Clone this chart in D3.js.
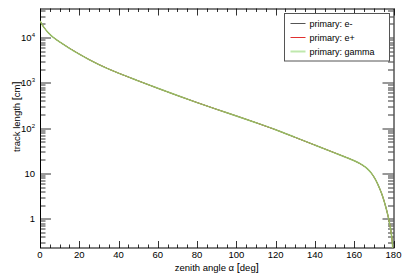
<!DOCTYPE html>
<html>
<head>
<meta charset="utf-8">
<script src="https://cdn.jsdelivr.net/npm/d3@7"></script>
<style>
  body { margin: 0; background: #fff; }
  text { font-family: "Liberation Sans", Arial, sans-serif; fill: #000; }
</style>
</head>
<body>
<div id="chart"></div>
<script>
// zenith angle (deg) and track length (cm)
const angles = [0, 2, 4, 6, 8, 10, 15, 20, 25, 30, 35, 40, 50, 60, 70, 80, 90, 100, 110, 120,
    130, 140, 150, 155, 160, 163, 165, 167, 169, 171, 173, 174, 175, 176, 177, 178, 178.5,
    179, 179.5, 179.8]
const trackLength = [23400, 16800, 13200, 10800, 9230, 8040, 5820, 4320, 3270, 2540, 2020, 1640,
    1110, 759, 525, 367, 260, 186, 132, 92.3, 62.4, 42.2, 28.5, 23.4, 19.05, 16.4, 14.45, 12.3,
    9.77, 7.08, 4.57, 3.55, 2.63, 1.86, 1.26, 0.794, 0.603, 0.427, 0.263, 0.158]
const seriesNames = ["primary: e-", "primary: e+", "primary: gamma"]
const xTicks = [0, 20, 40, 60, 80, 100, 120, 140, 160, 180]
const yTicks = [1, 10, 100, 1000, 10000]

const width = 407, height = 276
const margin = { top: 8.5, right: 13.5, bottom: 28, left: 40 }
const w = width - margin.left - margin.right
const h = height - margin.top - margin.bottom

var x = d3.scaleLinear().domain([0, 180]).range([0, w])
var y = d3.scaleLog().domain([0.225, 44000]).range([h, 0])

const svg = d3.select("#chart").append("svg")
    .attr("width", width)
    .attr("height", height)
const g = svg.append("g")
    .attr("transform", "translate(" + margin.left + "," + margin.top + ")")

g.append("clipPath").attr("id", "clip")
    .append("rect").attr("width", w).attr("height", h)

// ticks on all four sides, ROOT style (inside)
const xMinor = d3.range(0, 181, 5).filter(d => d % 20 != 0)
const yMinor = []
for (let e = -1; e <= 4; e++) {
    for (let k = 2; k <= 9; k++) {
        const v = k * Math.pow(10, e)
        if (v > y.domain()[0] && v < y.domain()[1]) yMinor.push(v)
    }
}
const ticks = g.append("g").attr("stroke", "#333").attr("stroke-width", 1)
function tickLines(vals, len, horizontal) {
    for (const v of vals) {
        if (horizontal) {
            const px = Math.round(x(v)) + 0.5
            ticks.append("line").attr("x1", px).attr("x2", px).attr("y1", h).attr("y2", h - len)
            ticks.append("line").attr("x1", px).attr("x2", px).attr("y1", 0).attr("y2", len)
        } else {
            const py = Math.round(y(v)) + 0.5
            ticks.append("line").attr("x1", 0).attr("x2", len).attr("y1", py).attr("y2", py)
            ticks.append("line").attr("x1", w).attr("x2", w - len).attr("y1", py).attr("y2", py)
        }
    }
}
tickLines(xTicks, 7, true)
tickLines(xMinor, 3.5, true)
tickLines(yTicks, 11, false)
tickLines(yMinor, 5.5, false)

// frame
g.append("rect")
    .attr("x", 0.5).attr("y", 0.5)
    .attr("width", w).attr("height", h - 0.5)
    .attr("fill", "none").attr("stroke", "#000").attr("stroke-width", 1)

// x tick labels
g.append("g").selectAll("text")
    .data(xTicks)
    .join("text")
    .attr("x", d => x(d))
    .attr("y", h + 10)
    .attr("text-anchor", "middle")
    .style("font-size", "9.5px")
    .text(d => d)

// y tick labels with superscript exponents
const yLab = g.append("g").selectAll("text")
    .data(yTicks)
    .join("text")
    .attr("x", -5)
    .attr("y", d => y(d) + 3.5)
    .attr("text-anchor", "end")
    .style("font-size", "9.5px")
yLab.each(function (d) {
    const t = d3.select(this)
    const e = Math.round(Math.log10(d))
    if (e < 2) {
        t.text(d)
    } else {
        t.append("tspan").text("10")
        t.append("tspan").attr("dy", -4).style("font-size", "6px").text(e)
    }
})

// axis titles
const xt = svg.append("text")
    .attr("x", margin.left + w / 2)
    .attr("y", 271)
    .attr("text-anchor", "middle")
    .style("font-size", "9.5px")
xt.append("tspan").text("zenith angle \u03b1  ")
xt.append("tspan").style("font-size", "11px").text("[")
xt.append("tspan").text("deg")
xt.append("tspan").style("font-size", "11px").text("]")
const yt = svg.append("text")
    .attr("transform", "translate(20,152) rotate(-90)")
    .attr("text-anchor", "start")
    .style("font-size", "9.5px")
yt.append("tspan").text("track length  ")
yt.append("tspan").style("font-size", "11px").text("[")
yt.append("tspan").text("cm")
yt.append("tspan").style("font-size", "11px").text("]")

// curves: the three series lie on top of each other
const data = angles.map((a, i) => ({ angle: a, len: trackLength[i] }))
var line = d3.line()
    .x(d => x(d.angle))
    .y(d => y(d.len))
    .curve(d3.curveMonotoneX)
const colors = ["#333333", "#e03030", "#8fd06a"]
const widths = [1, 1, 1.5]
const plot = g.append("g").attr("clip-path", "url(#clip)").attr("fill", "none")
seriesNames.forEach((s, i) => {
    plot.append("path")
        .attr("d", line(data))
        .attr("stroke", colors[i])
        .attr("stroke-width", widths[i])
        .attr("opacity", i == 2 ? 0.85 : 1)
})

// legend
const leg = svg.append("g").attr("transform", "translate(284.5,13.5)")
leg.append("rect")
    .attr("width", 105).attr("height", 47.5)
    .attr("fill", "#fff").attr("stroke", "#555").attr("stroke-width", 1)
const legColors = ["#555555", "#e03030", "#bfe8ad"]
const legWidths = [1, 1, 2]
seriesNames.forEach((s, i) => {
    const ly = 10 + i * 14
    leg.append("line")
        .attr("x1", 6).attr("x2", 21)
        .attr("y1", ly).attr("y2", ly)
        .attr("stroke", legColors[i]).attr("stroke-width", legWidths[i])
    leg.append("text")
        .attr("x", 25).attr("y", ly + 3)
        .style("font-size", "9px")
        .text(s)
})
</script>
</body>
</html>
